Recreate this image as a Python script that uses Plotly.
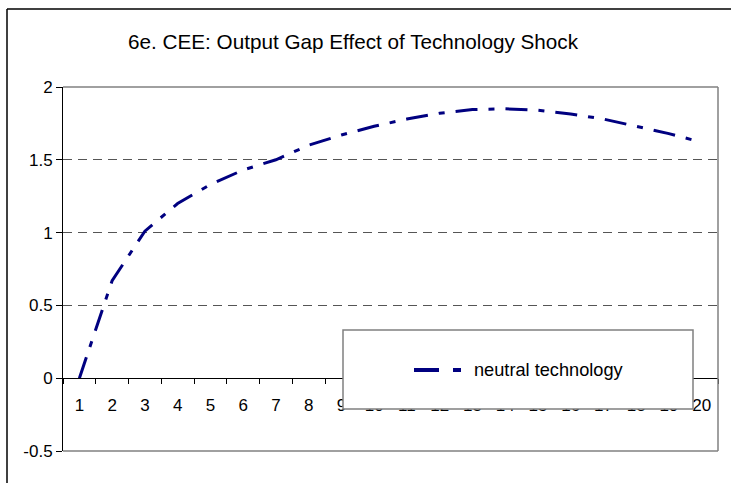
import plotly.graph_objects as go

# ---- data ----
periods = [str(i) for i in range(1, 21)]
neutral_technology = [0, 0.67, 1.01, 1.20, 1.33, 1.43, 1.50, 1.60, 1.67, 1.73,
                      1.78, 1.82, 1.845, 1.85, 1.84, 1.815, 1.78, 1.73, 1.68, 1.62]
y_ticks = [-0.5, 0, 0.5, 1, 1.5, 2]
y_tick_labels = ["-0.5", "0", "0.5", "1", "1.5", "2"]
title_text = "6e. CEE: Output Gap Effect of Technology Shock"
series_name = "neutral technology"

W, H = 731, 483
L, R, T, B = 63, 13, 87, 32
PW, PH = W - L - R, H - T - B

def px(x):
    return (x - L) / PW

def py(y):
    return (H - B - y) / PH

FONT = "Liberation Sans, Arial, sans-serif"
NAVY = "#000080"
DASH = "22px,11px,6px,11px"

fig = go.Figure()
fig.add_trace(go.Scatter(
    x=periods, y=neutral_technology, mode="lines", name=series_name,
    line=dict(color=NAVY, width=3, dash=DASH), showlegend=False,
))

fig.update_layout(
    width=W, height=H,
    margin=dict(l=L, r=R, t=T, b=B, pad=0),
    paper_bgcolor="white", plot_bgcolor="white",
    font=dict(family=FONT, size=17, color="black"),
    showlegend=False,
    xaxis=dict(
        type="category", categoryorder="array", categoryarray=periods,
        range=[-0.5, 19.5], anchor="free", position=0.2,
        showline=True, linecolor="black", linewidth=1,
        ticks="outside", tickson="boundaries", ticklen=5, tickcolor="black",
        showgrid=False, zeroline=False, automargin=False,
        ticklabelstandoff=11, tickfont=dict(size=17),
    ),
    yaxis=dict(
        range=[-0.5, 2], tickvals=y_ticks, ticktext=y_tick_labels,
        showline=True, linecolor="black", linewidth=1,
        ticks="outside", ticklen=6, tickcolor="black",
        showgrid=True, gridcolor="#555555", gridwidth=1, griddash="9px,6px",
        zeroline=False, automargin=False, tickfont=dict(size=17),
    ),
)

shapes = [
    # outer chart border (only top and left edges are visible)
    dict(type="line", xref="paper", yref="paper",
         x0=px(7), x1=px(735), y0=py(9), y1=py(9),
         line=dict(color="black", width=1.5), layer="below"),
    dict(type="line", xref="paper", yref="paper",
         x0=px(7), x1=px(7), y0=py(9), y1=py(490),
         line=dict(color="black", width=1.5), layer="below"),
    # plot area border (top/right/bottom)
    dict(type="line", xref="paper", yref="paper", x0=0, x1=1, y0=1, y1=1,
         line=dict(color="#808080", width=1.5), layer="above"),
    dict(type="line", xref="paper", yref="paper", x0=1, x1=1, y0=0, y1=1,
         line=dict(color="#808080", width=1.5), layer="above"),
    dict(type="line", xref="paper", yref="paper", x0=0, x1=1, y0=0, y1=0,
         line=dict(color="#808080", width=1.5), layer="above"),
    # legend box
    dict(type="rect", xref="paper", yref="paper",
         x0=px(343), x1=px(693), y0=py(409), y1=py(330),
         line=dict(color="#808080", width=1.5), fillcolor="white", layer="above"),
    # legend sample
    dict(type="line", xref="paper", yref="paper",
         x0=px(414), x1=px(461), y0=py(370), y1=py(370),
         line=dict(color=NAVY, width=4, dash="25px,14px,8px,14px"), layer="above"),
]
fig.update_layout(shapes=shapes)

fig.add_annotation(text=title_text, xref="paper", yref="paper",
                   x=px(353), y=py(41), xanchor="center", yanchor="middle",
                   showarrow=False, font=dict(family=FONT, size=20.7, color="black"))
fig.add_annotation(text=series_name, xref="paper", yref="paper",
                   x=px(472), y=py(370), xanchor="left", yanchor="middle",
                   showarrow=False, font=dict(family=FONT, size=18.2, color="black"))

fig.write_html("out.html", config={"displayModeBar": False},
               post_script="document.body.style.margin='0';document.body.style.overflow='hidden';")
